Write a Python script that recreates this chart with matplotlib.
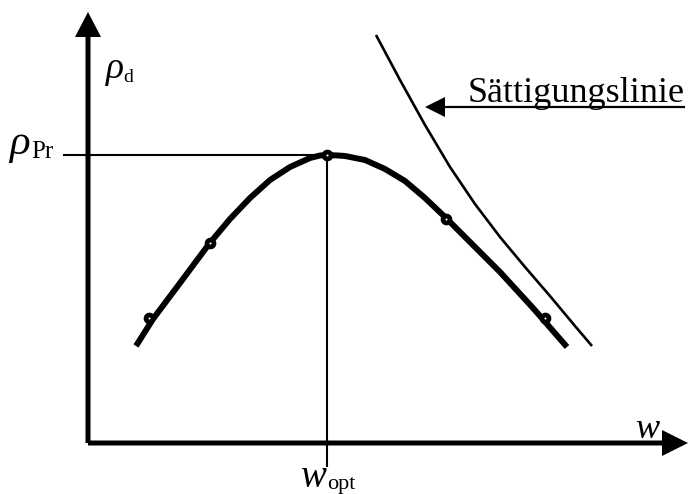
import matplotlib
matplotlib.use("Agg")
import matplotlib.pyplot as plt

# Proctor curve (water content w vs. dry density rho_d), schematic units
curve_w = [48, 65, 92, 121, 142, 162, 182, 202, 222, 232, 239, 250, 257, 277, 297, 317, 337, 358, 382, 412, 445, 479]
curve_rho = [97, 124, 160, 199, 224, 245, 263, 276, 285, 287.5, 288, 287.5, 287, 283, 274, 262, 245, 225, 201, 171, 135, 96]

# Individual test results
test_w = [61, 122, 239, 358, 457]
test_rho = [125, 200, 288, 224, 125]

# Saturation line (zero air voids)
sat_w = [288, 312, 337, 362, 387, 412, 437, 462, 487, 504]
sat_rho = [408, 363, 318, 276, 239, 206, 176, 147, 117, 97]

# Optimum
w_opt = 239
rho_pr = 288

W, H = 693, 494
ox, oy = 88, 443  # pixel position of the origin

fig = plt.figure(figsize=(W / 100, H / 100), dpi=100)
ax = fig.add_axes([0, 0, 1, 1])
ax.set_xlim(-ox, W - ox)
ax.set_ylim(oy - H, oy)
ax.axis("off")

serif = "Liberation Serif"

# Axes with arrowheads
ax.arrow(0, 0, 0, 431, width=5, head_width=26, head_length=25,
         length_includes_head=True, fc="black", ec="none")
ax.arrow(0, 0, 600, 0, width=5, head_width=26, head_length=26,
         length_includes_head=True, fc="black", ec="none")

# Guide lines to the optimum
ax.plot([-25, w_opt], [rho_pr, rho_pr], color="black", lw=1.5, solid_capstyle="butt")
ax.plot([w_opt, w_opt], [rho_pr, -24], color="black", lw=1.5, solid_capstyle="butt")

# Saturation line
ax.plot(sat_w, sat_rho, color="black", lw=1.9, solid_capstyle="butt",
        solid_joinstyle="round")

# Proctor curve and test points
ax.plot(curve_w, curve_rho, color="black", lw=4.3, solid_capstyle="butt",
        solid_joinstyle="round")
ax.plot(test_w, test_rho, linestyle="none", marker="o", ms=5.0,
        mfc="white", mec="black", mew=3.4)

# Label arrow for the saturation line
ax.plot([357, 597], [336, 336], color="black", lw=1.6, solid_capstyle="butt")
ax.arrow(360, 336, -23, 0, width=0.1, head_width=20, head_length=20,
         length_includes_head=True, fc="black", ec="none")
ax.text(380, 341, "Sättigungslinie", family=serif, fontsize=26, va="baseline", ha="left")

# Axis labels
ax.text(18, 365, "ρ", family=serif, style="italic", fontsize=27, va="baseline", ha="left")
ax.text(35, 361, "d", family=serif, fontsize=14, va="baseline", ha="left")

ax.text(-79, 289, "ρ", family=serif, style="italic", fontsize=31, va="baseline", ha="left")
ax.text(-57, 285, "Pr", family=serif, fontsize=18, va="baseline", ha="left")

ax.text(547, 5, "w", family=serif, style="italic", fontsize=26, va="baseline", ha="left")

ax.text(212, -44, "w", family=serif, style="italic", fontsize=28, va="baseline", ha="left")
ax.text(239, -46, "opt", family=serif, fontsize=16, va="baseline", ha="left")

fig.savefig("out.png", dpi=100)
